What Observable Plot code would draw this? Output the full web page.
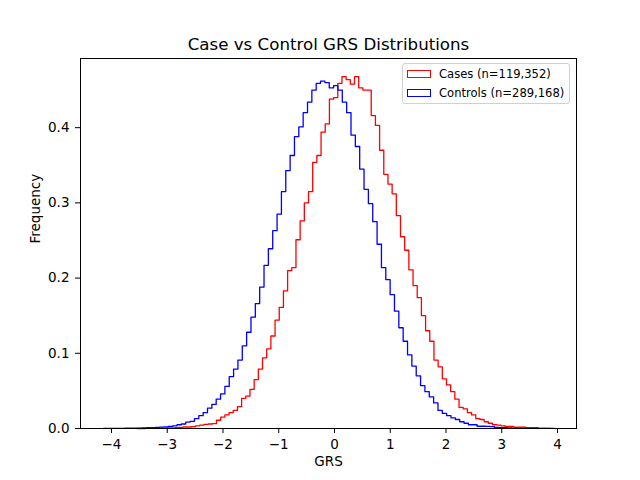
<!DOCTYPE html>
<html>
<head>
<meta charset="utf-8">
<script src="https://cdn.jsdelivr.net/npm/d3@7"></script>
<script src="https://cdn.jsdelivr.net/npm/@observablehq/plot@0.6"></script>
<style>
  html, body { margin: 0; padding: 0; background: white; }
  #wrap { position: relative; width: 640px; height: 480px; font-family: "DejaVu Sans", sans-serif; }
  #legend { position: absolute; left: 402px; top: 63px; width: 168px; height: 41px;
            border: 1px solid #d0d0d0; border-radius: 3px; background: rgba(255,255,255,0.85);
            font-size: 11.57px; color: black; box-sizing: border-box; }
  .row { position: absolute; left: 4px; height: 14px; display: flex; align-items: center; white-space: nowrap; }
  .sw { display: block; width: 24px; height: 8px; box-sizing: border-box; margin-right: 8px; flex: none; }
</style>
</head>
<body>
<div id="wrap"></div>
<script>
// Series names and labels
const seriesNames = ["Cases (n=119,352)", "Controls (n=289,168)"];
const seriesColors = ["#ff0000", "#0000ff"];

// Histogram bins (100 bins each, separate ranges)
const casesStart = -3.541;
const casesBinWidth = 0.075;
const controlsStart = -4.150;
const controlsBinWidth = 0.078;

const casesFreq = [
  0, 0, 0.0001, 0.0002, 0.0003, 0.0004, 0.0005, 0.0007, 0.0009, 0.0011,
  0.0015, 0.002, 0.002, 0.0025, 0.0035, 0.0045, 0.0055, 0.006, 0.0065, 0.011,
  0.015, 0.018, 0.021, 0.024, 0.029, 0.040, 0.043, 0.052, 0.065, 0.079,
  0.094, 0.106, 0.123, 0.144, 0.161, 0.183, 0.210, 0.214, 0.251, 0.276,
  0.300, 0.315, 0.354, 0.363, 0.394, 0.405, 0.438, 0.440, 0.459, 0.468,
  0.464, 0.458, 0.468, 0.453, 0.450, 0.450, 0.416, 0.403, 0.370, 0.338,
  0.325, 0.312, 0.283, 0.255, 0.237, 0.211, 0.190, 0.174, 0.150, 0.130,
  0.116, 0.091, 0.082, 0.066, 0.058, 0.049, 0.039, 0.028, 0.026, 0.021,
  0.018, 0.013, 0.012, 0.009, 0.007, 0.005, 0.0045, 0.0036, 0.0027, 0.0027,
  0.0017, 0.0017, 0.0017, 0.001, 0.001, 0.001, 0.0005, 0.0005, 0.0005, 0.0002
];

const controlsFreq = [
  0.0001, 0.0001, 0.0001, 0.0002, 0.0002, 0.0003, 0.0004, 0.0005, 0.0006, 0.0008,
  0.001, 0.0012, 0.0015, 0.0018, 0.0022, 0.0028, 0.0036, 0.005, 0.006, 0.0085,
  0.0095, 0.013, 0.017, 0.021, 0.027, 0.032, 0.039, 0.046, 0.056, 0.069,
  0.079, 0.091, 0.110, 0.128, 0.148, 0.166, 0.188, 0.217, 0.239, 0.263,
  0.285, 0.315, 0.343, 0.363, 0.388, 0.401, 0.420, 0.434, 0.450, 0.459,
  0.462, 0.460, 0.453, 0.456, 0.450, 0.434, 0.420, 0.390, 0.375, 0.345,
  0.318, 0.299, 0.275, 0.245, 0.214, 0.198, 0.178, 0.156, 0.134, 0.116,
  0.098, 0.083, 0.070, 0.057, 0.049, 0.042, 0.034, 0.024, 0.020, 0.017,
  0.014, 0.012, 0.009, 0.007, 0.005, 0.005, 0.003, 0.003, 0.0027, 0.0025,
  0.0015, 0.0012, 0.001, 0.0008, 0.0006, 0.0004, 0.0003, 0.0002, 0.0001, 0.0001
];

// Axis ticks
const xTicks = [-4, -3, -2, -1, 0, 1, 2, 3, 4];
const yTicks = [0, 0.1, 0.2, 0.3, 0.4];

const titleText = "Case vs Control GRS Distributions";
const xLabel = "GRS";
const yLabel = "Frequency";

// Build step outline (histtype="step") points from bins
function stepPoints(start, width, vals, series) {
  const pts = [{x: start, y: 0, series}];
  vals.forEach((v, i) => {
    pts.push({x: start + i * width, y: v, series});
    pts.push({x: start + (i + 1) * width, y: v, series});
  });
  pts.push({x: start + vals.length * width, y: 0, series});
  return pts;
}
const casesPts = stepPoints(casesStart, casesBinWidth, casesFreq, seriesNames[0]);
const controlsPts = stepPoints(controlsStart, controlsBinWidth, controlsFreq, seriesNames[1]);

const fmtX = d => d < 0 ? "\u2212" + Math.abs(d) : String(d);

const chart = Plot.plot({
  width: 640,
  height: 480,
  marginLeft: 80,
  marginRight: 64,
  marginTop: 58,
  marginBottom: 52,
  style: {fontFamily: "DejaVu Sans", fontSize: "13.5px", background: "white", color: "black", overflow: "visible"},
  x: {domain: [-4.556, 4.341]},
  y: {domain: [0, 0.492]},
  marks: [
    Plot.line(casesPts, {x: "x", y: "y", stroke: seriesColors[0], strokeWidth: 1.3, curve: "linear"}),
    Plot.line(controlsPts, {x: "x", y: "y", stroke: seriesColors[1], strokeWidth: 1.3, curve: "linear"}),
    Plot.frame({stroke: "black", strokeWidth: 1}),
    Plot.axisX({ticks: xTicks, tickFormat: fmtX, tickSize: 5, tickPadding: 5.5, label: null, fontSize: 13.5}),
    Plot.axisY({ticks: yTicks, tickFormat: d => d.toFixed(1), tickSize: 5, tickPadding: 6, label: null, fontSize: 13.5}),
    Plot.text([titleText], {frameAnchor: "top", dy: -20, fontSize: 16.67, text: d => d}),
    Plot.text([xLabel], {frameAnchor: "bottom", dy: 37, fontSize: 13.5, text: d => d}),
    Plot.text([yLabel], {frameAnchor: "left", dx: -45, rotate: -90, fontSize: 13.5, text: d => d})
  ]
});

const wrap = document.getElementById("wrap");
wrap.appendChild(chart);

const legend = document.createElement("div");
legend.id = "legend";
seriesNames.forEach((name, i) => {
  const row = document.createElement("div");
  row.className = "row";
  row.style.top = (i === 0 ? 3 : 22) + "px";
  const sw = document.createElement("span");
  sw.className = "sw";
  sw.style.border = "1.4px solid " + seriesColors[i];
  const t = document.createElement("span");
  t.textContent = name;
  row.appendChild(sw);
  row.appendChild(t);
  legend.appendChild(row);
});
wrap.appendChild(legend);
</script>
</body>
</html>
